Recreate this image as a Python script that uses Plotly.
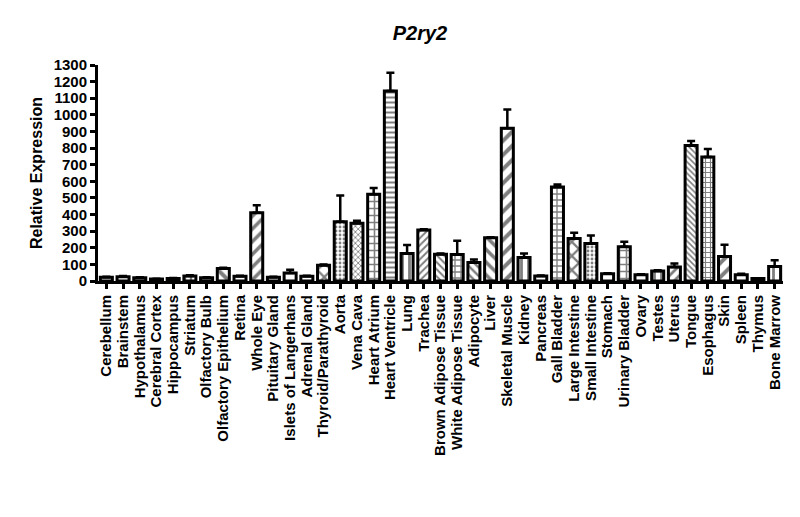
import plotly.graph_objects as go

tissues = [
    "Cerebellum", "Brainstem", "Hypothalamus", "Cerebral Cortex", "Hippocampus",
    "Striatum", "Olfactory Bulb", "Olfactory Epithelium", "Retina", "Whole Eye",
    "Pituitary Gland", "Islets of Langerhans", "Adrenal Gland", "Thyroid/Parathyroid",
    "Aorta", "Vena Cava", "Heart Atrium", "Heart Ventricle", "Lung", "Trachea",
    "Brown Adipose Tissue", "White Adipose Tissue", "Adipocyte", "Liver",
    "Skeletal Muscle", "Kidney", "Pancreas", "Gall Bladder", "Large Intestine",
    "Small Intestine", "Stomach", "Urinary Bladder", "Ovary", "Testes", "Uterus",
    "Tongue", "Esophagus", "Skin", "Spleen", "Thymus", "Bone Marrow",
]

expression = [
    22, 26, 20, 12, 15, 30, 20, 75, 28, 411,
    22, 48, 28, 95, 357, 347, 522, 1143, 166, 307,
    161, 159, 111, 260, 919, 141, 30, 565, 256, 226,
    44, 206, 38, 60, 85, 816, 746, 147, 38, 15, 87,
]

sem = [
    3, 4, 3, 2, 3, 4, 3, 5, 4, 45,
    3, 20, 4, 5, 157, 16, 37, 111, 50, 4,
    4, 83, 18, 4, 113, 25, 3, 16, 34, 48,
    3, 30, 3, 4, 20, 27, 48, 71, 6, 2, 38,
]

# hatch per bar, roughly following the original fills
patterns = [
    "", "", "", "", "", "|", "", "\\", "", "/",
    "", "", "", "x", ".", "x", "+", "-", "|", "/",
    "\\", "+", "\\", "\\", "/", "|", "", "+", "x", ".",
    "", "+", "", "|", "/", "\\", "+", "/", "", "", "|",
]
pattern_sizes = [
    6, 6, 6, 6, 6, 6, 6, 10, 6, 9,
    6, 6, 6, 10, 4, 4, 7, 5, 7, 5,
    5, 6, 6, 9, 10, 7, 6, 6, 10, 4,
    6, 7, 6, 7, 7, 4, 5, 10, 6, 6, 7,
]

bold = dict(family="Liberation Sans, Arial", color="black", weight="bold")

fig = go.Figure()
fig.add_trace(go.Bar(
    x=tissues,
    y=expression,
    width=0.72,
    marker=dict(
        color="white",
        line=dict(color="black", width=3),
        pattern=dict(shape=patterns, size=pattern_sizes, fgcolor="black",
                     bgcolor="white", solidity=0.4, fillmode="overlay"),
    ),
    error_y=dict(type="data", array=sem, arrayminus=[0] * len(sem), symmetric=False,
                 color="black", thickness=2.5, width=4),
))

fig.update_layout(
    width=800, height=517,
    margin=dict(l=90, r=25, t=57, b=244),
    plot_bgcolor="white", paper_bgcolor="white",
    showlegend=False,
    title=dict(text="<i>P2ry2</i>", x=0.515, xanchor="center", y=0.952, yanchor="middle",
               font=dict(size=20, **bold)),
)
fig.update_yaxes(
    range=[0, 1300], dtick=100, showgrid=False, zeroline=False,
    showline=True, linecolor="black", linewidth=3,
    ticks="outside", ticklen=5, tickwidth=2.5, tickcolor="black",
    tickfont=dict(size=15, **bold),
    title=dict(text="Relative Expression", font=dict(size=16, **bold), standoff=8),
)
fig.update_xaxes(
    tickmode="array", tickvals=tissues, ticktext=tissues,
    showgrid=False, showline=True, linecolor="black", linewidth=3,
    ticks="outside", ticklen=5, tickwidth=2.5, tickcolor="black",
    tickangle=-90, tickfont=dict(size=15, **bold),
)

fig.write_html("out.html")
